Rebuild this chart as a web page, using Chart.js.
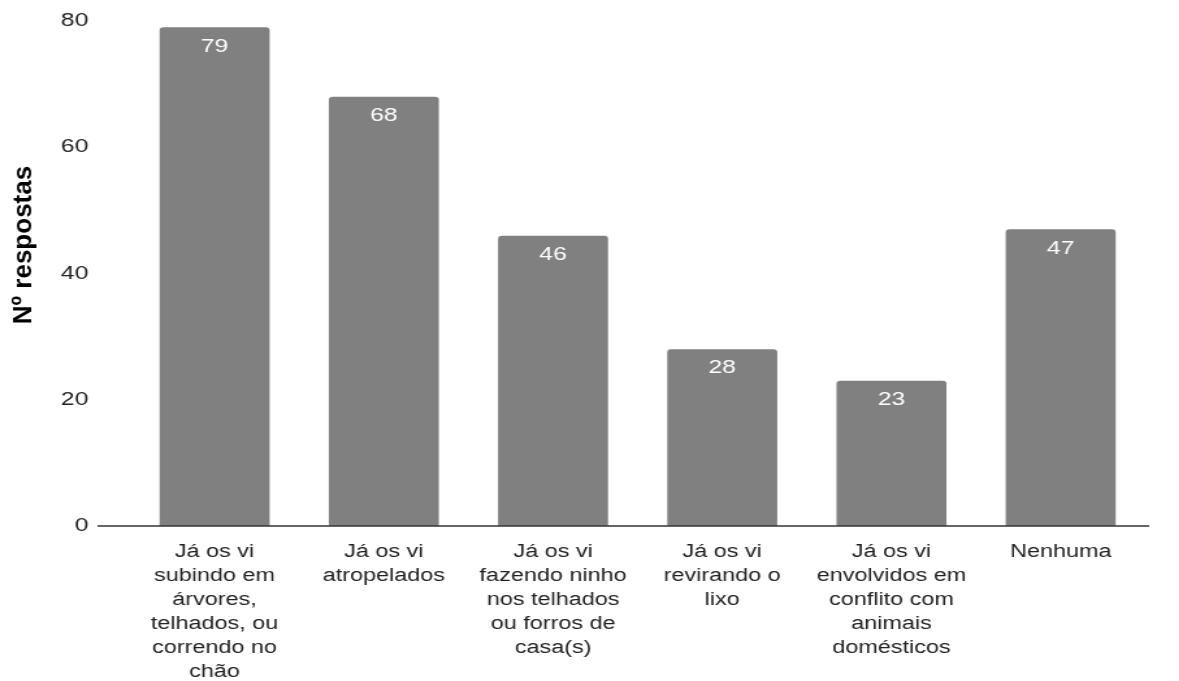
<!DOCTYPE html>
<html><head><meta charset="utf-8">
<script src="https://cdn.jsdelivr.net/npm/chart.js@4/dist/chart.umd.min.js"></script>
<style>
html,body{margin:0;padding:0;background:#fff;overflow:hidden}
#wrap{width:907px;height:681px;transform:scaleX(1.3);transform-origin:0 0}
</style>
</head><body><div id="wrap"><canvas id="c" width="907" height="681"></canvas></div>
<script>
const categories = [
  ["Já os vi","subindo em","árvores,","telhados, ou","correndo no","chão"],
  ["Já os vi","atropelados"],
  ["Já os vi","fazendo ninho","nos telhados","ou forros de","casa(s)"],
  ["Já os vi","revirando o","lixo"],
  ["Já os vi","envolvidos em","conflito com","animais","domésticos"],
  ["Nenhuma"]
];
const values = [79, 68, 46, 28, 23, 47];
const yTicks = [0, 20, 40, 60, 80];
const yTitle = "Nº respostas";

const FONT = '"Liberation Sans", Arial, sans-serif';
const STRETCH = 1.3;

const labelPlugin = {
  id: 'vals',
  afterDatasetsDraw(chart) {
    const ctx = chart.ctx;
    const meta = chart.getDatasetMeta(0);
    ctx.save();
    ctx.fillStyle = '#ffffff';
    ctx.font = '19px ' + FONT;
    ctx.textAlign = 'center';
    ctx.textBaseline = 'middle';
    meta.data.forEach((bar, i) => {
      ctx.fillText(String(values[i]), bar.x, bar.y + 19);
    });
    ctx.restore();
  },
  afterDraw(chart) {
    const ctx = chart.ctx;
    const y0 = chart.scales.y.getPixelForValue(0);
    ctx.save();
    ctx.strokeStyle = '#333333';
    ctx.lineWidth = 1.6;
    ctx.beginPath();
    ctx.moveTo(75, y0);
    ctx.lineTo(chart.chartArea.right + 3, y0);
    ctx.stroke();
    ctx.restore();
    // y-axis title (drawn unstretched)
    ctx.save();
    ctx.translate(18.5, 245);
    ctx.scale(1 / STRETCH, 1);
    ctx.rotate(-Math.PI / 2);
    ctx.fillStyle = '#000000';
    ctx.font = 'bold 26px ' + FONT;
    ctx.textAlign = 'center';
    ctx.textBaseline = 'middle';
    ctx.fillText(yTitle, 0, 0);
    ctx.restore();
  }
};

new Chart(document.getElementById('c'), {
  type: 'bar',
  data: {
    labels: categories,
    datasets: [{
      data: values,
      backgroundColor: '#808080',
      borderRadius: {topLeft: 3, topRight: 3, bottomLeft: 0, bottomRight: 0},
      borderSkipped: 'bottom',
      barPercentage: 0.65,
      categoryPercentage: 1.0
    }]
  },
  options: {
    responsive: false,
    animation: false,
    layout: { padding: { top: 21, right: 26, left: 0, bottom: 0 } },
    plugins: { legend: { display: false }, tooltip: { enabled: false } },
    scales: {
      x: {
        grid: { display: false, drawTicks: false },
        border: { display: false },
        ticks: {
          color: '#222222',
          font: { size: 18, family: FONT, lineHeight: 1.33 },
          padding: 14,
          maxRotation: 0,
          autoSkip: false
        },
        afterFit(s) { s.height = 155; s.paddingLeft = 0; s.paddingRight = 0; }
      },
      y: {
        min: 0, max: 80,
        afterBuildTicks(s) { s.ticks = yTicks.map(v => ({ value: v })); },
        grid: { display: false, drawTicks: false },
        border: { display: false },
        ticks: {
          color: '#222222',
          font: { size: 19, family: FONT },
          padding: 32
        },
        title: { display: false, text: yTitle },
        afterFit(s) { s.width = 100; s.paddingTop = 0; s.paddingBottom = 0; }
      }
    }
  },
  plugins: [labelPlugin]
});
</script>
</body></html>
